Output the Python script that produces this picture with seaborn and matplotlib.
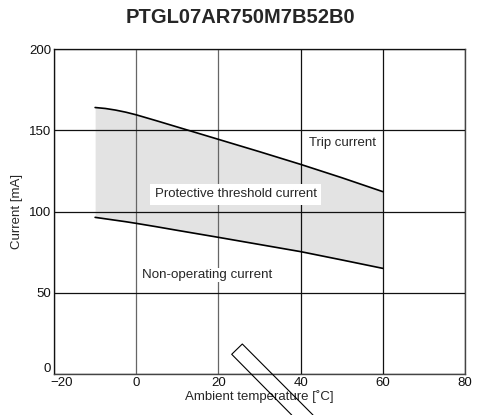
import matplotlib
matplotlib.use("Agg")
import matplotlib.pyplot as plt
import matplotlib.transforms as mtransforms
import seaborn as sns
import pandas as pd
from matplotlib.lines import Line2D

# values
temps = [-10, -7.5, -5, -2.5, 0, 5, 10, 20, 30, 40, 50, 60]
trip_current = [164, 163.4, 162.4, 161.1, 159.5, 155.8, 152, 144.4, 136.8, 129, 120.8, 112.2]
non_operating = [96.4, 95.5, 94.6, 93.7, 92.7, 90.6, 88.4, 84.1, 79.7, 75.3, 70.2, 65.0]
x_ticks = [-20, 0, 20, 40, 60, 80]
y_ticks = [0, 50, 100, 150, 200]
x_tick_labels = ["\u221220", "0", "20", "40", "60", "80"]

df = pd.DataFrame({"temp": temps, "trip": trip_current, "nonop": non_operating})

sns.set_style("white")
plt.rcParams["font.family"] = ["Liberation Sans", "DejaVu Sans"]
fs = 9.5

fig = plt.figure(figsize=(4.78, 4.15), dpi=100)
ax = fig.add_axes([0.113, 0.0988, 0.86, 0.7831])

ax.fill_between(df["temp"], df["nonop"], df["trip"], color="#e3e3e3", lw=0, zorder=1)
sns.lineplot(data=df, x="temp", y="trip", ax=ax, color="black", lw=1.2, zorder=3)
sns.lineplot(data=df, x="temp", y="nonop", ax=ax, color="black", lw=1.2, zorder=3)

ax.set_xlim(-20, 80)
ax.set_ylim(0, 200)
ax.set_xticks(x_ticks)
ax.set_xticklabels(x_tick_labels)
ax.set_yticks(y_ticks)
ax.grid(True, color="#111111", lw=0.9, zorder=2)
ax.set_axisbelow(False)
for gl, val in zip(ax.get_xgridlines(), x_ticks):
    if val in (0, 20):
        gl.set_color("#666666")
for sp in ax.spines.values():
    sp.set_color("#444444")
    sp.set_linewidth(1.0)
ax.tick_params(axis="both", length=0, labelsize=fs, pad=2, colors="#111111")

# nudge the corner labels apart like the original sheet
ax.get_xticklabels()[0].set_transform(
    ax.get_xticklabels()[0].get_transform() + mtransforms.ScaledTranslation(8 / 100, 0, fig.dpi_scale_trans))
ax.get_yticklabels()[0].set_transform(
    ax.get_yticklabels()[0].get_transform() + mtransforms.ScaledTranslation(0, 6 / 100, fig.dpi_scale_trans))

ax.set_xlabel("Ambient temperature [\u02daC]", fontsize=fs, labelpad=1)
ax.set_ylabel("Current [mA]", fontsize=fs, labelpad=4)

ax.text(50.1, 142.2, "Trip current", fontsize=fs, ha="center", va="center", zorder=4)
ax.text(24.2, 110.6, "Protective threshold current", fontsize=fs, ha="center", va="center",
        zorder=4, bbox=dict(facecolor="white", edgecolor="none", pad=3))
ax.text(17.2, 60.9, "Non-operating current", fontsize=9.6, ha="center", va="center", zorder=4,
        bbox=dict(facecolor="white", edgecolor="none", pad=0.5))

fig.suptitle("PTGL07AR750M7B52B0", x=0.502, y=0.957, va="center", fontsize=14.5, fontweight="bold")

# slanted outline drawn across the bottom of the chart
h = 415.0
px = [291.7, 231.7, 242.3, 313.0]
py = [415.0, 354.3, 344.0, 415.0]
outline = Line2D([p / 478.0 for p in px], [1 - p / h for p in py], transform=fig.transFigure,
                 color="black", lw=0.8, zorder=10)
fig.add_artist(outline)

fig.savefig("out.png", dpi=100)
